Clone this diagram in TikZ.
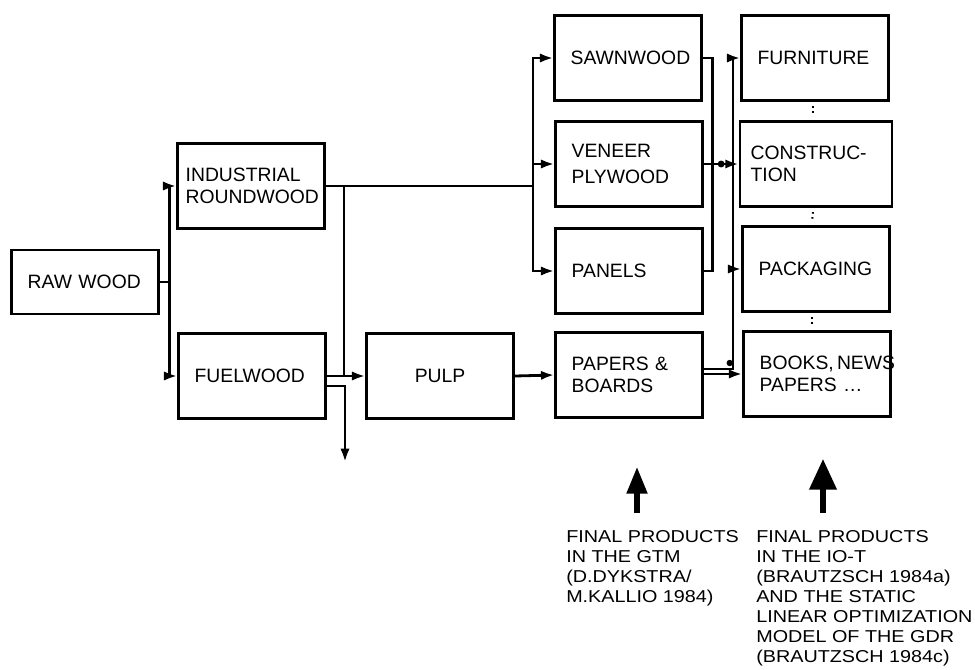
\documentclass[tikz,border=0pt]{standalone}
\usepackage{fontspec}
\setmainfont{Liberation Sans}
\newfontfamily\notefont[FakeStretch=1.15]{Liberation Sans}
\usetikzlibrary{arrows.meta,calc}

\begin{document}
\begin{tikzpicture}[x=0.75pt,y=-0.75pt,
  box/.style={draw,line width=2.1pt,text width=86pt,inner xsep=12pt,inner ysep=2pt,
    minimum height=64pt,align=left,font=\fontsize{14.5}{16}\selectfont},
  link/.style={line width=2.1pt},
  feed/.style={line width=2.1pt,-{Latex[length=10pt,width=7pt]}},
  dotgap/.style={line width=1.5pt,dash pattern=on 1.2pt off 2.6pt},
  note/.style={anchor=north west,inner sep=0pt,align=left,
    font=\notefont\fontsize{12.9}{15}\selectfont}]
\useasboundingbox (0,0) rectangle (975,669);
\node[box,minimum height=48pt] (raw) at (85,282) {RAW WOOD};
\node[box,inner xsep=6pt,text width=98pt] (ind) at (251,186) {INDUSTRIAL\\ROUNDWOOD};
\node[box] (fuel) at (252,376) {FUELWOOD};
\node[box,align=center] (pulp) at (440,376) {PULP};
\node[box] (saw) at (628,58) {SAWNWOOD};
\node[box] (ven) at (629,164) {VENEER\\[4pt]PLYWOOD};
\node[box] (pan) at (629,271) {PANELS};
\node[box] (pap) at (629,375) {PAPERS \&\\BOARDS};
\node[box] (fur) at (815,58) {FURNITURE};
\node[box,inner xsep=8pt,text width=98pt] (con) at (816,164) {CONSTRUC-\\TION};
\node[box] (pac) at (816,269) {PACKAGING};
\node[box] (book) at (817,374) {BOOKS,\,NEWS\\PAPERS \dots};
\draw[link] (raw.east) -- ++(10,0) coordinate (rawfork);
\draw[feed] (rawfork) |- (ind.west);
\draw[feed] (rawfork) |- (fuel.west);
\coordinate (pulpfork) at (344,186);
\coordinate (midfork) at (533,186);
\draw[link] (ind.east) -- (midfork);
\draw[feed] (midfork) |- (saw.west);
\draw[feed] (midfork) |- (ven.west);
\draw[feed] (midfork) |- (pan.west);
\draw[link] (pulpfork) -- (pulpfork |- fuel.east);
\draw[feed] (fuel.east) -- (pulp.west);
\coordinate (waste) at (345,462);
\draw[feed] ($(fuel.east)+(0,10)$) -| (waste);
\draw[feed] (pulp.east) -- (pap.west);
\draw[link] (saw.east) -| ($(pan.east)+(9,0)$) -- (pan.east);
\draw[feed] (ven.east) -- coordinate[pos=0.5] (vdot) (con.west);
\fill (vdot) circle (2.6pt);
\coordinate (rightfork) at (733,164);
\draw[feed] ($(pap.east)+(0,-6)$) -| (rightfork) |- (fur.west);
\draw[feed] (rightfork) |- (pac.west);
\draw[feed] ($(pap.east)+(0,-1)$) -- (book.west);
\fill ($(pap.east)+(26,-12)$) circle (2.4pt);
\draw[dotgap] ($(fur.south)+(-2,4)$) -- ($(con.north)+(-3,-4)$);
\draw[dotgap] ($(con.south)+(-3,4)$) -- ($(pac.north)+(-4,-4)$);
\draw[dotgap] ($(pac.south)+(-4,4)$) -- ($(book.north)+(-5,-4)$);
\node[note] (gtm) at (566,530) {FINAL PRODUCTS\\IN THE GTM\\(D.DYKSTRA/\\M.KALLIO 1984)};
\node[note] (iot) at (756,530) {FINAL PRODUCTS\\IN THE IO-T\\(BRAUTZSCH 1984a)\\AND THE STATIC\\LINEAR OPTIMIZATION\\MODEL OF THE GDR\\(BRAUTZSCH 1984c)};
\coordinate (tip1) at (637,467);
\coordinate (tip2) at (823,459);
\draw[line width=3.8pt,-{Triangle[length=20pt,width=15pt]}] (tip1 |- gtm.north) ++(0,-17) -- (tip1);
\draw[line width=3.8pt,-{Triangle[length=23pt,width=20pt]}] (tip2 |- iot.north) ++(0,-17) -- (tip2);
\end{tikzpicture}
\end{document}
